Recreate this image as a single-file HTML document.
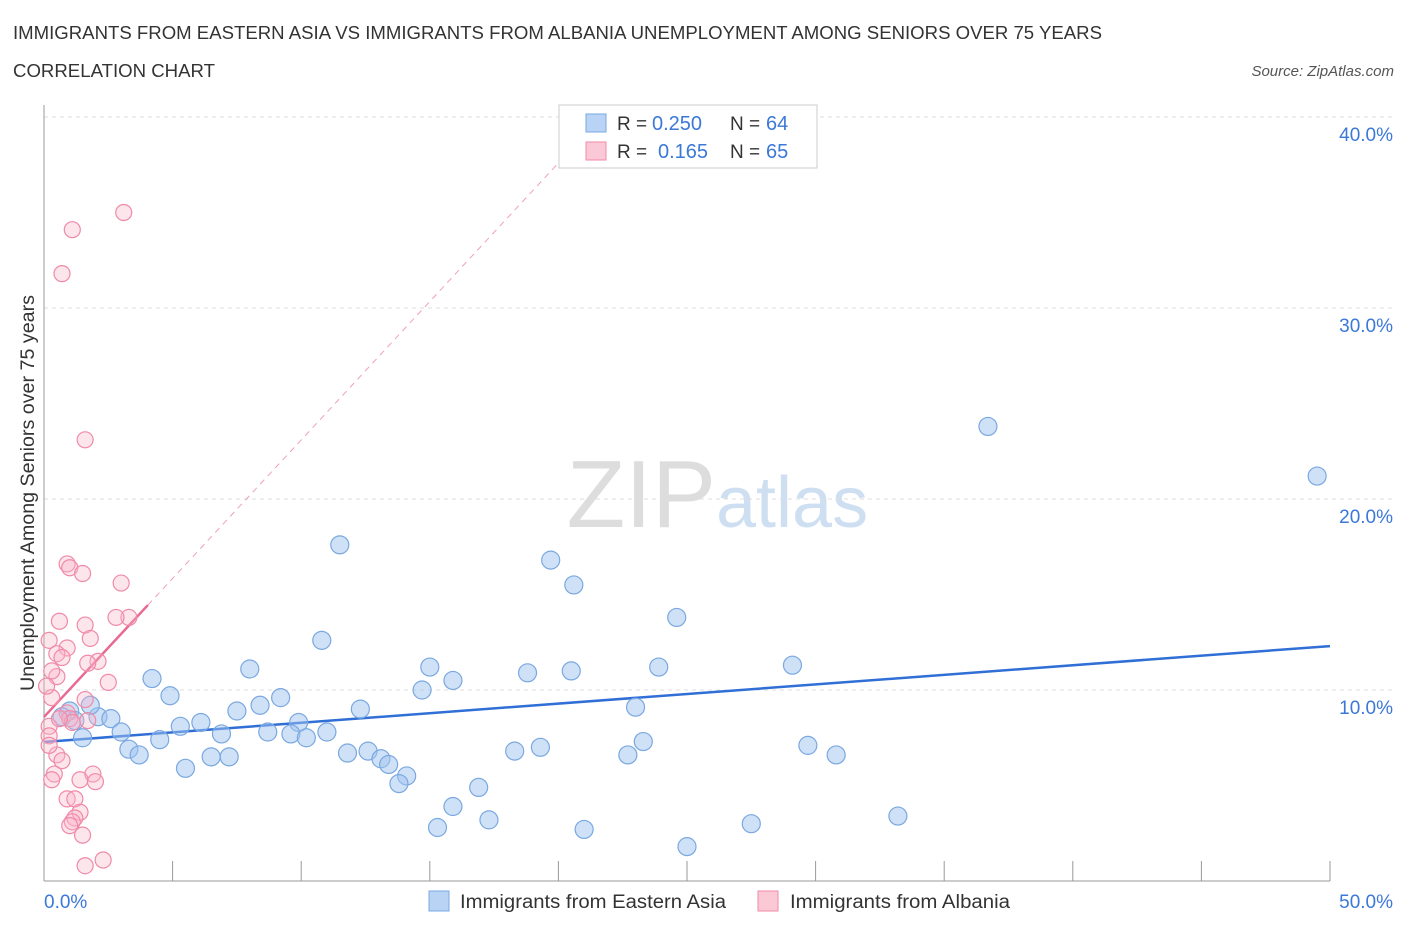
<!DOCTYPE html>
<html><head><meta charset="utf-8"><style>
body{margin:0;background:#fff;font-family:"Liberation Sans",sans-serif;}
svg text{font-family:"Liberation Sans",sans-serif;}
</style></head><body>
<svg id="chart" width="1406" height="930" xmlns="http://www.w3.org/2000/svg">
<text x="13" y="39" font-size="18" fill="#333" textLength="1089" lengthAdjust="spacingAndGlyphs">IMMIGRANTS FROM EASTERN ASIA VS IMMIGRANTS FROM ALBANIA UNEMPLOYMENT AMONG SENIORS OVER 75 YEARS</text>
<text x="13" y="77" font-size="18" fill="#333" textLength="202" lengthAdjust="spacingAndGlyphs">CORRELATION CHART</text>
<text x="1394" y="76" font-size="15" fill="#555" font-style="italic" text-anchor="end">Source: ZipAtlas.com</text>
<text x="716" y="527" font-size="96" text-anchor="end" fill="#ddd" font-family="Liberation Serif">ZIP</text>
<text x="716" y="527" font-size="72" fill="#cfdff2">atlas</text>
<g id="grid"></g><g id="axes"></g><g id="lines"></g><g id="points"></g>
<text transform="translate(34,493) rotate(-90)" font-size="19" fill="#333" text-anchor="middle" textLength="396" lengthAdjust="spacingAndGlyphs">Unemployment Among Seniors over 75 years</text>
<g>
<rect x="559" y="105" width="258" height="63" fill="#fff" stroke="#ccc"/>
<rect x="586" y="114" width="20" height="18" fill="#b9d3f5" stroke="#7aa8e0"/>
<rect x="586" y="142" width="20" height="18" fill="#fbc8d6" stroke="#f08aa8"/>
<text x="617" y="130" font-size="19" fill="#333">R =</text>
<text x="652" y="130" font-size="20" fill="#3b78d8">0.250</text>
<text x="730" y="130" font-size="19" fill="#333">N =</text>
<text x="766" y="130" font-size="20" fill="#3b78d8">64</text>
<text x="617" y="158" font-size="19" fill="#333">R =</text>
<text x="658" y="158" font-size="20" fill="#3b78d8">0.165</text>
<text x="730" y="158" font-size="19" fill="#333">N =</text>
<text x="766" y="158" font-size="20" fill="#3b78d8">65</text>
</g>
<g>
<rect x="429" y="891" width="20" height="20" fill="#b9d3f5" stroke="#7aa8e0"/>
<text x="460" y="908" font-size="19" fill="#333" textLength="266" lengthAdjust="spacingAndGlyphs">Immigrants from Eastern Asia</text>
<rect x="758" y="891" width="20" height="20" fill="#fbc8d6" stroke="#f08aa8"/>
<text x="790" y="908" font-size="19" fill="#333" textLength="220" lengthAdjust="spacingAndGlyphs">Immigrants from Albania</text>
</g>
</svg>
<script>
const yTicks=[10,20,30,40];
const yTickLabels=["10.0%","20.0%","30.0%","40.0%"];
const xTicks=[0,5,10,15,20,25,30,35,40,45,50];
const blueX=[36.7,49.5,11.5,19.7,20.6,24.6,10.8,29.1,23.9,20.5,18.8,15.0,15.9,8.0,4.2,4.9,9.2,14.7,7.5,8.4,12.3,23.0,2.1,2.6,6.1,5.3,9.9,8.7,9.6,10.2,6.9,11.0,3.0,1.5,4.5,3.3,3.7,11.8,12.6,13.1,13.4,19.3,18.3,23.3,22.7,29.7,30.8,6.5,7.2,5.5,14.1,13.8,16.9,15.9,17.3,15.3,21.0,27.5,33.2,25.0,1.0,1.2,0.7,1.8];
const blueY=[23.8,21.2,17.6,16.8,15.5,13.8,12.6,11.3,11.2,11.0,10.9,11.2,10.5,11.1,10.6,9.7,9.6,10.0,8.9,9.2,9.0,9.1,8.6,8.5,8.3,8.1,8.3,7.8,7.7,7.5,7.7,7.8,7.8,7.5,7.4,6.9,6.6,6.7,6.8,6.4,6.1,7.0,6.8,7.3,6.6,7.1,6.6,6.5,6.5,5.9,5.5,5.1,4.9,3.9,3.2,2.8,2.7,3.0,3.4,1.8,8.9,8.4,8.6,9.2];
const pinkX=[3.1,1.1,0.7,1.6,0.9,1.0,1.5,3.0,3.3,2.8,1.6,0.6,0.2,1.8,0.9,0.5,0.7,2.1,1.7,0.5,0.3,2.5,0.3,1.6,0.9,1.0,1.1,1.7,0.2,0.2,0.5,0.7,1.9,1.4,0.4,0.3,2.0,0.9,1.2,1.4,1.2,1.1,1.0,1.5,1.6,2.3,0.2,0.6,0.1];
const pinkY=[35.0,34.1,31.8,23.1,16.6,16.4,16.1,15.6,13.8,13.8,13.4,13.6,12.6,12.7,12.2,11.9,11.7,11.5,11.4,10.7,11.0,10.4,9.6,9.5,8.8,8.5,8.3,8.4,8.1,7.6,6.6,6.3,5.6,5.3,5.6,5.3,5.2,4.3,4.3,3.6,3.3,3.1,2.9,2.4,0.8,1.1,7.1,8.5,10.2];
const blueLine=[7.28,12.3];
const pinkLine=[8.59,1.45,4.04];
const X=v=>44+v*25.72, Y=v=>881-v*19.1;
const NS="http://www.w3.org/2000/svg";
function mk(p,t,a){const e=document.createElementNS(NS,t);for(const k in a)e.setAttribute(k,a[k]);document.getElementById(p).appendChild(e);return e;}
yTicks.forEach((t,i)=>{
 const g=mk("grid","line",{x1:44,x2:1394,y1:Y(t),y2:Y(t),stroke:"#ddd","stroke-dasharray":"4,4"});
 
 
 const tx=mk("grid","text",{x:1393,y:Y(t)+24,"font-size":19,fill:"#3b78d8","text-anchor":"end"});tx.textContent=yTickLabels[i];
 
 
});
mk("grid","line",{x1:44,x2:1394,y1:117,y2:117,stroke:"#ddd","stroke-dasharray":"4,4"});
const ax=mk("axes","line",{x1:44,x2:44,y1:105,y2:881,stroke:"#999"});


const bx=mk("axes","line",{x1:44,x2:1330,y1:881,y2:881,stroke:"#999"});


xTicks.forEach(t=>{const l=mk("axes","line",{x1:X(t),x2:X(t),y1:861,y2:881,stroke:"#999"});
 
 });
const x0=mk("axes","text",{x:44,y:908,"font-size":19,fill:"#3b78d8"});x0.textContent="0.0%";


const x1=mk("axes","text",{x:1393,y:908,"font-size":19,fill:"#3b78d8","text-anchor":"end"});x1.textContent="50.0%";


blueX.forEach((v,i)=>{const c=mk("points","circle",{cx:X(v),cy:Y(blueY[i]),r:9,fill:"rgba(160,196,240,0.5)",stroke:"#7aa8e0","stroke-width":1.2});
 
 });
pinkX.forEach((v,i)=>{const c=mk("points","circle",{cx:X(v),cy:Y(pinkY[i]),r:8,fill:"rgba(248,180,200,0.35)",stroke:"#f08aa8","stroke-width":1.2});
 
 });
const bl=mk("lines","line",{x1:X(0),y1:Y(blueLine[0]),x2:X(50),y2:Y(blueLine[1]),stroke:"#2f6fd6","stroke-width":2.5});


const pd=mk("lines","line",{x1:X(pinkLine[2]),y1:Y(pinkLine[0]+pinkLine[1]*pinkLine[2]),x2:X(21),y2:Y(pinkLine[0]+pinkLine[1]*21),stroke:"#f0a0b8","stroke-width":1,"stroke-dasharray":"6,5"});


const pl=mk("lines","line",{x1:X(0),y1:Y(pinkLine[0]),x2:X(pinkLine[2]),y2:Y(pinkLine[0]+pinkLine[1]*pinkLine[2]),stroke:"#e86a92","stroke-width":2.5});


</script>
</body></html>
